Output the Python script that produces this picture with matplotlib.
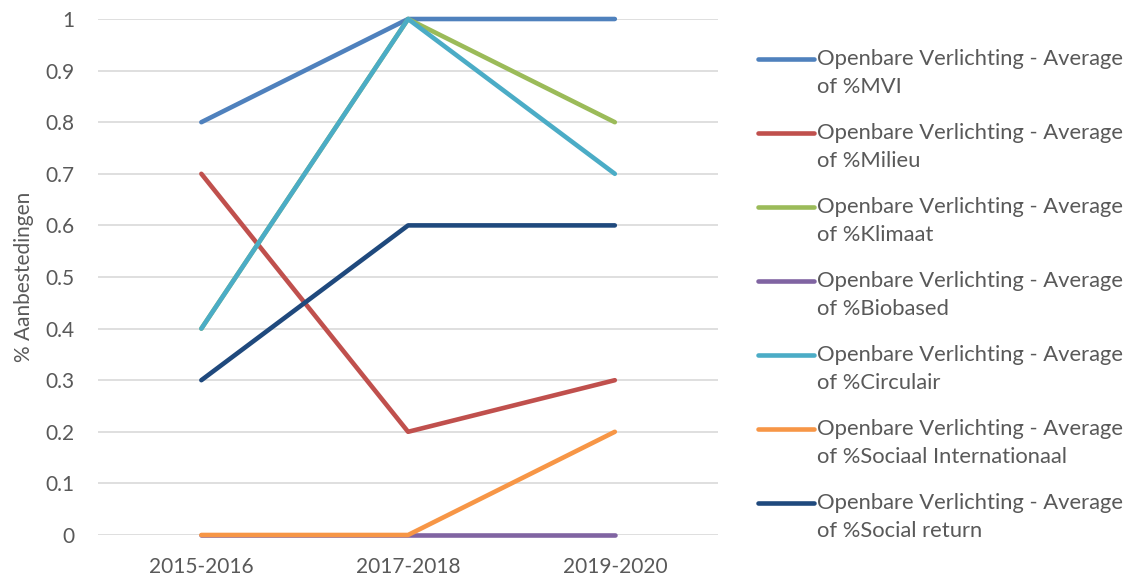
import numpy as np
import matplotlib.pyplot as plt
from matplotlib.lines import Line2D
from matplotlib.legend_handler import HandlerLine2D

plt.rcParams['font.family'] = ['Lato', 'DejaVu Sans']

periodes = ['2015-2016', '2017-2018', '2019-2020']

mvi = [0.8, 1.0, 1.0]
milieu = [0.7, 0.2, 0.3]
klimaat = [0.4, 1.0, 0.8]
biobased = [0.0, 0.0, 0.0]
circulair = [0.4, 1.0, 0.7]
sociaal_int = [0.0, 0.0, 0.2]
social_return = [0.3, 0.6, 0.6]

namen = ['%MVI', '%Milieu', '%Klimaat', '%Biobased', '%Circulair',
         '%Sociaal Internationaal', '%Social return']
reeksen = [mvi, milieu, klimaat, biobased, circulair, sociaal_int, social_return]
kleuren = ['#4F81BD', '#C0504D', '#9BBB59', '#8064A2', '#4BACC6', '#F79646', '#1F497D']


class HandlerBovensteRegel(HandlerLine2D):
    # legendalijn naast de eerste regel van een tweeregelig label
    def create_artists(self, legend, orig_handle, xdescent, ydescent,
                       width, height, fontsize, trans):
        arts = super().create_artists(legend, orig_handle, xdescent, ydescent,
                                      width, height, fontsize, trans)
        for a in arts:
            a.set_ydata(np.asarray(a.get_ydata()) + 0.67 * fontsize)
        return arts


fig = plt.figure(figsize=(11.38, 5.76), dpi=100)
ax = fig.add_axes([0.0861, 0.0712, 0.545, 0.8958])

x = range(len(periodes))
for waarden, kleur in zip(reeksen, kleuren):
    ax.plot(x, waarden, color=kleur, lw=3.3, solid_capstyle='round',
            solid_joinstyle='round', clip_on=False)

ax.set_xlim(-0.5, 2.5)
ax.set_ylim(0, 1)
ax.set_yticks([i / 10 for i in range(11)])
ax.set_yticklabels(['0'] + [f'{i / 10:g}' for i in range(1, 10)] + ['1'])
ax.set_xticks(list(x))
ax.set_xticklabels(periodes)
ax.grid(axis='y', color='#D9D9D9', lw=1.2)
ax.set_axisbelow(True)
for s in ax.spines.values():
    s.set_visible(False)
ax.tick_params(length=0, labelsize=15, colors='#595959')
ax.tick_params(axis='x', pad=16)
ax.tick_params(axis='y', pad=17)
ax.set_ylabel('% Aanbestedingen', fontsize=15, color='#595959', labelpad=8)

handles = [Line2D([0], [0], color=k, lw=3.3, solid_capstyle='round') for k in kleuren]
labels = [f'Openbare Verlichting - Average\nof {n}' for n in namen]
leg = fig.legend(handles, labels, loc='upper left', bbox_to_anchor=(0.658, 0.93),
                 frameon=False, fontsize=15.8, labelcolor='#595959',
                 handlelength=2.55, handletextpad=0.15, labelspacing=1.2,
                 borderaxespad=0,
                 handler_map={Line2D: HandlerBovensteRegel()})
for t in leg.get_texts():
    t.set_linespacing(1.48)

fig.savefig('out.png', dpi=100)
